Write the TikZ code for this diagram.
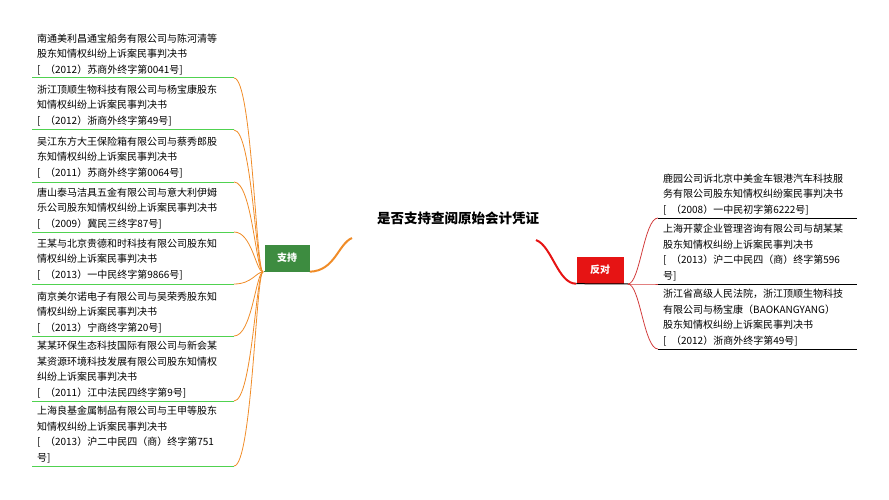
\documentclass[tikz,border=0pt]{standalone}
\usepackage{fontspec}
\setmainfont{Noto Sans CJK SC}
\usepackage{tikz}
\usetikzlibrary{positioning}
\definecolor{treegreen}{RGB}{61,140,64}
\definecolor{linegreen}{RGB}{80,210,80}
\definecolor{branchorange}{RGB}{240,140,40}
\definecolor{treered}{RGB}{230,20,20}
\definecolor{branchred}{RGB}{210,60,60}
\begin{document}
\begin{tikzpicture}[x=1pt,y=-1pt,
	every node/.style={font=\fontsize{10}{15.5}\selectfont},
	caseleft/.style={anchor=south west,inner sep=0pt,align=left},
	caseright/.style={anchor=south west,inner sep=0pt,align=left},
	uleft/.style={draw=linegreen,line width=1pt},
	uright/.style={draw=black,line width=1pt},
	limb/.style={draw=branchorange,line width=0.8pt},
	rlimb/.style={draw=branchred,line width=0.8pt},]
	\useasboundingbox (0,0) rectangle (889,500);

	% central topic
	\node (topic) at (458,218) {\fontsize{13.5}{16}\selectfont\bfseries 是否支持查阅原始会计凭证};
	\node (yes) [fill=treegreen,text=white,minimum width=45pt,minimum height=27pt,inner sep=0pt] at (287,258) {\bfseries 支持};
	\node (no) [fill=treered,text=white,minimum width=47pt,minimum height=27pt,inner sep=0pt] at (600,270) {\bfseries 反对};
	\coordinate (hubl) at (263,272);
	\coordinate (hubr) at (628,284);

	\draw[draw=branchorange,line width=2pt] (yes.south east) .. controls (335,271) and (338,244) .. (352,238);
	\draw[draw=treegreen,line width=1.2pt] (yes.south west) -- (yes.south east);
	\draw[draw=treered,line width=2pt] (536,240) .. controls (552,246) and (558,284) .. (no.south west);
	\draw[draw=black,line width=1pt] (no.south west) -- (hubr);

	% supporting cases
	\node (s1) [caseleft] at (37,75) {南通美利昌通宝船务有限公司与陈河清等\\股东知情权纠纷上诉案民事判决书\\{[}\ \ （2012）苏商外终字第0041号{]}};
	\node (s2) [caseleft] at (37,126) {浙江顶顺生物科技有限公司与杨宝康股东\\知情权纠纷上诉案民事判决书\\{[}\ \ （2012）浙商外终字第49号{]}};
	\node (s3) [caseleft] at (37,178) {吴江东方大王保险箱有限公司与蔡秀郎股\\东知情权纠纷上诉案民事判决书\\{[}\ \ （2011）苏商外终字第0064号{]}};
	\node (s4) [caseleft] at (37,229) {唐山泰马洁具五金有限公司与意大利伊姆\\乐公司股东知情权纠纷上诉案民事判决书\\{[}\ \ （2009）冀民三终字87号{]}};
	\node (s5) [caseleft] at (37,280) {王某与北京贵德和时科技有限公司股东知\\情权纠纷上诉案民事判决书\\{[}\ \ （2013）一中民终字第9866号{]}};
	\node (s6) [caseleft] at (37,333) {南京美尔诺电子有限公司与吴荣秀股东知\\情权纠纷上诉案民事判决书\\{[}\ \ （2013）宁商终字第20号{]}};
	\node (s7) [caseleft] at (37,398) {某某环保生态科技国际有限公司与新会某\\某资源环境科技发展有限公司股东知情权\\纠纷上诉案民事判决书\\{[}\ \ （2011）江中法民四终字第9号{]}};
	\node (s8) [caseleft] at (37,463) {上海良基金属制品有限公司与王甲等股东\\知情权纠纷上诉案民事判决书\\{[}\ \ （2013）沪二中民四（商）终字第751\\号{]}};

	\foreach \n/\y in {1/78,2/130,3/182,4/232,5/284,6/336,7/401,8/466}{
		\coordinate (e\n) at (234,\y);
		\draw[uleft] (32,\y) -- (e\n);
		\draw[limb] (e\n) .. controls (252,\y) and (256,272) .. (hubl);
	}

	% opposing cases
	\node (o1) [caseright] at (663,215) {鹿园公司诉北京中美金车银港汽车科技服\\务有限公司股东知情权纠纷案民事判决书\\{[}\ \ （2008）一中民初字第6222号{]}};
	\node (o2) [caseright] at (663,281) {上海开蒙企业管理咨询有限公司与胡某某\\股东知情权纠纷上诉案民事判决书\\{[}\ \ （2013）沪二中民四（商）终字第596\\号{]}};
	\node (o3) [caseright] at (663,346) {浙江省高级人民法院，浙江顶顺生物科技\\有限公司与杨宝康（BAOKANGYANG）\\股东知情权纠纷上诉案民事判决书\\{[}\ \ （2012）浙商外终字第49号{]}};

	\foreach \n/\y in {1/218,2/284,3/349}{
		\coordinate (f\n) at (658,\y);
		\draw[uright] (f\n) -- (857,\y);
		\draw[rlimb] (hubr) .. controls (640,284) and (644,\y) .. (f\n);
	}
\end{tikzpicture}
\end{document}
